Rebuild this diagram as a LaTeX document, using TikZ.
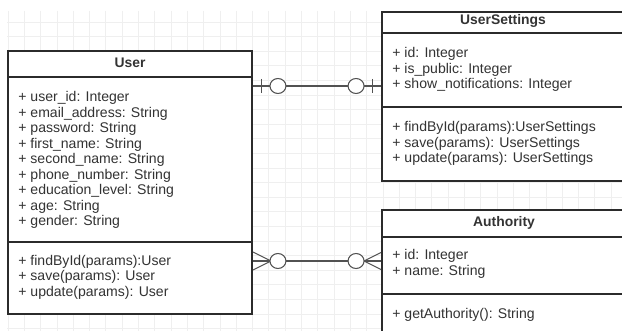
\documentclass[tikz,border=0pt]{standalone}
\usepackage{fontspec}
\setmainfont{Liberation Sans}
\usepackage{tikz}
\usetikzlibrary{arrows.meta}

\definecolor{ink}{HTML}{333333}
\definecolor{rule}{HTML}{2B2B2B}
\definecolor{gridgray}{HTML}{EFEFEF}

\tikzset{
  classbox/.style={draw=rule,line width=1.1pt,fill=white,rectangle,inner sep=0pt},
  classtitle/.style={font=\fontsize{7.9}{8.8}\selectfont\bfseries,text=ink,inner sep=0pt},
  members/.style={font=\fontsize{8}{8.8}\selectfont,text=ink,align=left,inner sep=0pt,anchor=west},
  relline/.style={draw=ink!85,line width=0.6pt},
  ring/.style={draw=ink!85,line width=0.6pt,fill=white}
}

\begin{document}
\begin{tikzpicture}[x=0.02cm,y=-0.02cm]
		\clip (0,0) rectangle (622,331);
		\fill[white] (0,0) rectangle (622,331);

		\foreach \x in {8,24.3,...,622} \draw[gridgray,line width=0.4pt] (\x,11) -- (\x,331);
		\foreach \y in {22,36.6,...,331} \draw[gridgray,line width=0.4pt] (7,\y) -- (622,\y);

		\begin{scope}[every node/.style={classbox}]
		    \node[minimum width=4.88cm,minimum height=5.26cm] (user) at (130,182.5) {};
		    \node[minimum width=4.84cm,minimum height=3.38cm] (settings) at (503,96.5) {};
		    \node[minimum width=4.88cm,minimum height=3cm] (authority) at (504,285) {};
		\end{scope}

		\begin{scope}[rule, line width=1.1pt]
		    \draw (user.west |- 0,77) -- (user.east |- 0,77);
		    \draw (user.west |- 0,242) -- (user.east |- 0,242);
		    \draw (settings.west |- 0,33) -- (settings.east |- 0,33);
		    \draw (settings.west |- 0,107) -- (settings.east |- 0,107);
		    \draw (authority.west |- 0,237) -- (authority.east |- 0,237);
		    \draw (authority.west |- 0,294) -- (authority.east |- 0,294);
		\end{scope}

		\node[classtitle] (user-title) at (130,63) {User};
		\node[classtitle] (settings-title) at (503,20.5) {UserSettings};
		\node[classtitle] (authority-title) at (504,223) {Authority};

		\node[members] (user-attrs) at (18,160) {+ user\_id: Integer\\+ email\_address: String\\+ password: String\\+ first\_name: String\\+ second\_name: String\\+ phone\_number: String\\+ education\_level: String\\+ age: String\\+ gender: String};
		\node[members] (user-ops) at (18,277.3) {+ findById(params):User\\+ save(params): User\\+ update(params): User};
		\node[members] (settings-attrs) at (392,69.5) {+ id: Integer\\+ is\_public: Integer\\+ show\_notifications: Integer};
		\node[members] (settings-ops) at (392,143.5) {+ findById(params):UserSettings\\+ save(params): UserSettings\\+ update(params): UserSettings};
		\node[members] (authority-attrs) at (392,264) {+ id: Integer\\+ name: String};
		\node[members] (authority-ops) at (392,314.5) {+ getAuthority(): String};

		\coordinate (one-l) at (user.east |- 0,86);
		\coordinate (one-r) at (settings.west |- 0,86);
		\coordinate (many-l) at (user.east |- 0,261);
		\coordinate (many-r) at (authority.west |- 0,261);

		\begin{scope}[every path/.style={relline}]
		    \draw (one-l) -- (one-r);
		    \draw (one-l) ++(9,-7) -- ++(0,14);
		    \draw (one-r) ++(-9,-7) -- ++(0,14);
		    \draw (many-l) -- (many-r);
		    \draw (many-l) ++(0,-9) -- ++(18,9) -- ++(-18,9);
		    \draw (many-r) ++(0,-8.5) -- ++(-17,8.5) -- ++(17,8.5);
		\end{scope}

		\begin{scope}[every path/.style={ring}]
		    \draw (one-l) ++(25,0) ellipse [x radius=0.16cm, y radius=0.15cm];
		    \draw (one-r) ++(-25,0) ellipse [x radius=0.16cm, y radius=0.15cm];
		    \draw (many-l) ++(25,0) ellipse [x radius=0.16cm, y radius=0.15cm];
		    \draw (many-r) ++(-25,0) ellipse [x radius=0.16cm, y radius=0.15cm];
		\end{scope}
\end{tikzpicture}
\end{document}
